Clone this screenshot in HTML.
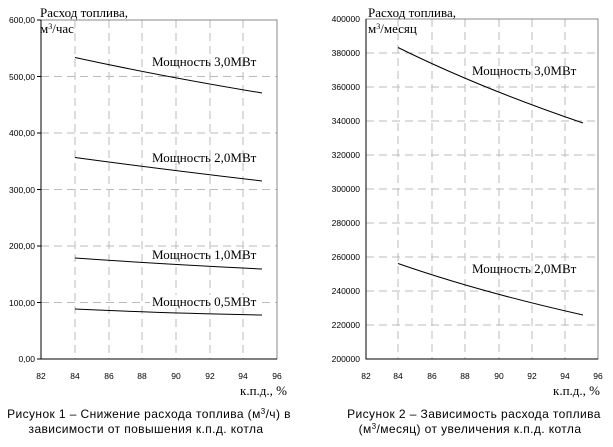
<!DOCTYPE html>
<html><head><meta charset="utf-8"><style>
body{margin:0;background:#fff;}
svg{display:block;}
.t{font-family:"Liberation Sans",sans-serif;font-size:8.5px;fill:#000;}
.s{font-family:"Liberation Serif",serif;font-size:13px;fill:#000;}
.c{font-family:"Liberation Sans",sans-serif;font-size:12px;fill:#000;letter-spacing:0.4px;}
.g{stroke:#bbb;stroke-width:1;stroke-dasharray:8,5;fill:none;}
</style></head><body>
<svg width="613" height="447" viewBox="0 0 613 447">
<!-- Chart 1 -->
<g>
<path class="g" d="M75,20V359M109,20V359M142,20V359M176,20V359M210,20V359M243,20V359M41,76.5H277M41,133H277M41,189.5H277M41,246H277M41,302.5H277"/>
<rect x="41" y="20" width="236" height="339" fill="none" stroke="#888"/>
<path d="M41,20V359H277" stroke="#000" fill="none"/>
<path d="M37,20H41M37,76.5H41M37,133H41M37,189.5H41M37,246H41M37,302.5H41M37,359H41" stroke="#000"/>
<g class="t" text-anchor="end">
<text x="35" y="23">600,00</text><text x="35" y="80">500,00</text><text x="35" y="136">400,00</text><text x="35" y="193">300,00</text><text x="35" y="249">200,00</text><text x="35" y="306">100,00</text><text x="35" y="362">0,00</text>
</g>
<g class="t" text-anchor="middle">
<text x="41" y="379">82</text><text x="75" y="379">84</text><text x="109" y="379">86</text><text x="142" y="379">88</text><text x="176" y="379">90</text><text x="210" y="379">92</text><text x="243" y="379">94</text><text x="277" y="379">96</text>
</g>
<g stroke="#000" fill="none" stroke-width="1">
<path d="M75,57.5 Q160,76 262,93"/>
<path d="M75,157.5 Q160,169 262,181"/>
<path d="M75,258 Q160,264 262,269"/>
<path d="M75,309 Q160,313 262,315"/>
</g>
<rect x="150" y="295" width="112" height="13" fill="#fff"/>
<g class="s">
<text x="152" y="66">Мощность 3,0МВт</text>
<text x="152" y="162">Мощность 2,0МВт</text>
<text x="152" y="259">Мощность 1,0МВт</text>
<text x="152" y="306">Мощность 0,5МВт</text>
<text x="40" y="17">Расход топлива,</text>
<text x="40" y="33">м<tspan dy="-4" font-size="8">3</tspan><tspan dy="4">/час</tspan></text>
<text x="287" y="395" text-anchor="end">к.п.д., %</text>
</g>
<text class="c" x="149" y="418" text-anchor="middle">Рисунок 1 – Снижение расхода топлива (м<tspan dy="-4" font-size="8">3</tspan><tspan dy="4">/ч) в</tspan></text>
<text class="c" x="146" y="433" text-anchor="middle">зависимости от повышения к.п.д. котла</text>
</g>
<!-- Chart 2 -->
<g>
<path class="g" d="M398,19V359M432,19V359M465,19V359M499,19V359M532,19V359M565,19V359M366,53H598M366,87H598M366,121H598M366,155H598M366,189H598M366,223H598M366,257H598M366,291H598M366,325H598"/>
<rect x="366" y="19" width="232" height="340" fill="none" stroke="#888"/>
<path d="M366,19V359H598" stroke="#000" fill="none"/>
<g class="t" text-anchor="end">
<text x="360" y="22">400000</text><text x="360" y="56">380000</text><text x="360" y="90">360000</text><text x="360" y="124">340000</text><text x="360" y="158">320000</text><text x="360" y="192">300000</text><text x="360" y="226">280000</text><text x="360" y="260">260000</text><text x="360" y="294">240000</text><text x="360" y="328">220000</text><text x="360" y="362">200000</text>
</g>
<g class="t" text-anchor="middle">
<text x="366" y="379">82</text><text x="398" y="379">84</text><text x="432" y="379">86</text><text x="465" y="379">88</text><text x="499" y="379">90</text><text x="532" y="379">92</text><text x="565" y="379">94</text><text x="598" y="379">96</text>
</g>
<g stroke="#000" fill="none">
<path d="M398,47.5 Q480,88 583,123"/>
<path d="M398,263.5 Q480,292 583,315"/>
</g>
<g class="s">
<text x="472" y="75">Мощность 3,0МВт</text>
<text x="472" y="273">Мощность 2,0МВт</text>
<text x="368" y="17">Расход топлива,</text>
<text x="368" y="33">м<tspan dy="-4" font-size="8">3</tspan><tspan dy="4">/месяц</tspan></text>
<text x="600" y="395" text-anchor="end">к.п.д., %</text>
</g>
<text class="c" x="474" y="418" text-anchor="middle">Рисунок 2 – Зависимость расхода топлива</text>
<text class="c" x="470" y="433" text-anchor="middle">(м<tspan dy="-4" font-size="8">3</tspan><tspan dy="4">/месяц) от увеличения к.п.д. котла</tspan></text>
</g>
</svg>
</body></html>
